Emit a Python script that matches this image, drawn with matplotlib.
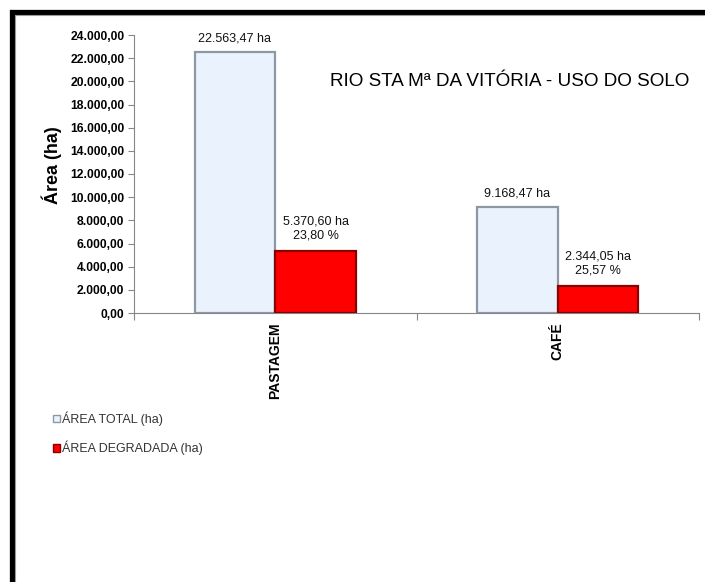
import matplotlib
matplotlib.use("Agg")
import matplotlib.pyplot as plt
from matplotlib.ticker import FuncFormatter, MultipleLocator
from matplotlib.lines import Line2D
from matplotlib.patches import Patch

# Données
categorias = ["PASTAGEM", "CAFÉ"]
area_total = [22563.47, 9168.47]
area_degradada = [5370.60, 2344.05]
percentual = [23.80, 25.57]
legenda = ["ÁREA TOTAL (ha)", "ÁREA DEGRADADA (ha)"]
titulo = "RIO STA Mª DA VITÓRIA - USO DO SOLO"


def br(v, dec=2):
    # formato pt-BR : 24.000,00
    s = f"{v:,.{dec}f}"
    return s.replace(",", "X").replace(".", ",").replace("X", ".")


plt.rcParams["font.family"] = ["Liberation Sans", "DejaVu Sans"]

fig = plt.figure(figsize=(7.05, 5.82), dpi=100)
ax = fig.add_axes([134 / 705, 1 - 313 / 582, (699 - 134) / 705, (313 - 35) / 582])

largura = 0.285
pos = [0.5 + i for i in range(len(categorias))]
x_tot = [p - largura / 2 for p in pos]
x_deg = [p + largura / 2 for p in pos]

ax.bar(x_tot, area_total, width=largura, color="#EAF3FD",
       edgecolor="#8E98A4", linewidth=1.6, zorder=3)
ax.bar(x_deg, area_degradada, width=largura, color="#FF0000",
       edgecolor="#8A0000", linewidth=1.6, zorder=3)

# rótulos dos valores
for x, v in zip(x_tot, area_total):
    ax.annotate(br(v) + " ha", (x, v), xytext=(0, 5), textcoords="offset points",
                ha="center", va="bottom", fontsize=9, color="#111111")
for x, v, p in zip(x_deg, area_degradada, percentual):
    ax.annotate(br(v) + " ha\n" + br(p) + " %", (x, v), xytext=(0, 7),
                textcoords="offset points", ha="center", va="bottom",
                fontsize=9, color="#111111", linespacing=1.15)

ax.set_xlim(0, len(categorias))
ax.set_ylim(0, 24000)
ax.yaxis.set_major_locator(MultipleLocator(2000))
ax.yaxis.set_major_formatter(FuncFormatter(lambda v, _: br(v)))
ax.tick_params(axis="y", direction="out", length=4, width=0.8, color="#868686",
               labelsize=8.7, pad=3)
for t in ax.get_yticklabels():
    t.set_fontweight("bold")

ax.set_xticks(pos)
ax.set_xticklabels(categorias, rotation=90, fontsize=10, fontweight="bold",
                   va="top", ha="center")
ax.set_xticks([0, 1, 2], minor=True)
ax.tick_params(axis="x", which="major", length=0, pad=7)
ax.tick_params(axis="x", which="minor", direction="out", length=5, width=0.8,
               color="#868686")

for s in ["top", "right"]:
    ax.spines[s].set_visible(False)
for s in ["left", "bottom"]:
    ax.spines[s].set_color("#868686")
    ax.spines[s].set_linewidth(0.8)

fig.text(52 / 705, 1 - 165 / 582, "Área (ha)", rotation=90, fontsize=13,
         fontweight="bold", ha="center", va="center")
fig.text(510 / 705, 1 - 82 / 582, titulo, fontsize=13.6, ha="center", va="center")

# legenda
handles = [Patch(facecolor="#EAF3FD", edgecolor="#8E98A4", linewidth=1.0),
           Patch(facecolor="#FF0000", edgecolor="#8A0000", linewidth=1.0)]
fig.legend(handles, legenda, loc="upper left", bbox_to_anchor=(42 / 705, 1 - 400 / 582),
           frameon=False, handlelength=0.55, handleheight=0.55, handletextpad=0.15,
           labelspacing=1.2, prop={"size": 9}, labelcolor="#333333")

# moldura preta (cortada à direita e embaixo)
fig.add_artist(Line2D([11.5 / 705, 11.5 / 705, 1.0], [0.0, 1 - 11.5 / 582, 1 - 11.5 / 582],
                      transform=fig.transFigure, color="black", linewidth=3.8,
                      solid_joinstyle="miter"))
fig.add_artist(Line2D([15 / 705, 15 / 705, 1.0], [0.0, 1 - 15 / 582, 1 - 15 / 582],
                      transform=fig.transFigure, color="#9A9A9A", linewidth=0.8))

fig.savefig("out.png", dpi=100)
